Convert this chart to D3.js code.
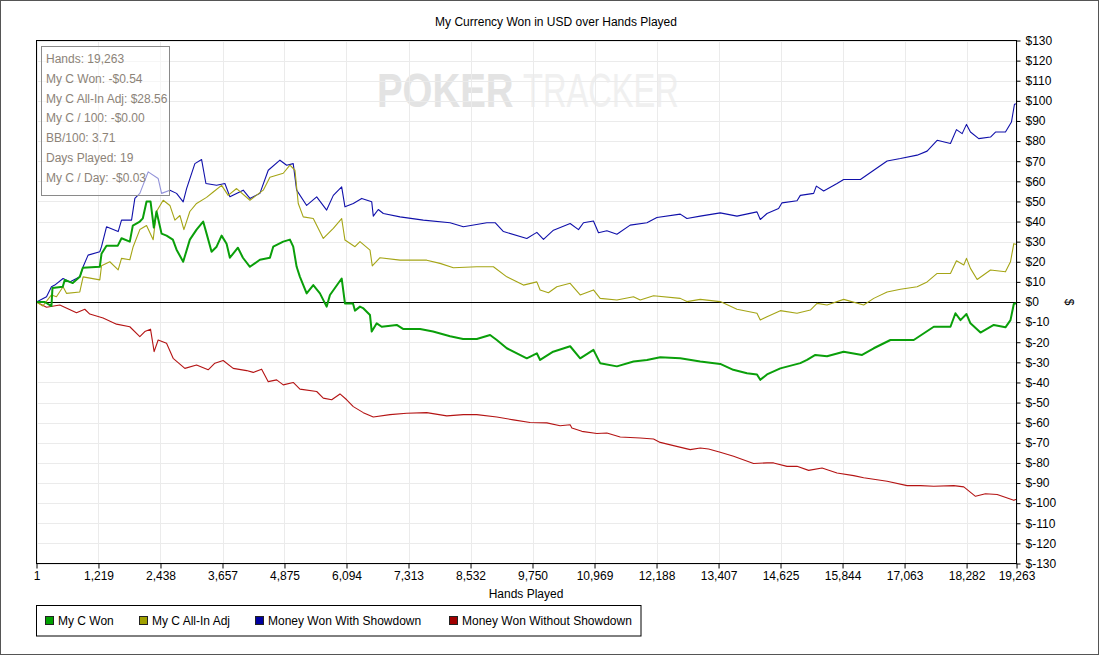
<!DOCTYPE html>
<html>
<head>
<meta charset="utf-8">
<script src="https://cdn.jsdelivr.net/npm/d3@7"></script>
<style>
  body { margin: 0; background: #fff; }
  svg text { font-family: "Liberation Sans", Arial, sans-serif; }
</style>
</head>
<body>
<div id="chart"></div>
<script>
// Data: [hands played, cumulative $]
const myCWon = [
  [1, 0], [163, 0], [295, -2], [315, 7], [517, 7.6], [557, 11], [714, 9.4], [852, 12.5], [911, 17],
  [1245, 17.5], [1279, 24], [1377, 28], [1599, 28], [1672, 31.7], [1835, 30], [1894, 38], [2032, 40],
  [2091, 41.6], [2164, 50], [2242, 50], [2307, 37], [2360, 45], [2459, 34], [2557, 33], [2681, 31],
  [2754, 26], [2884, 20], [3015, 31], [3147, 36], [3277, 40], [3344, 34], [3442, 25], [3541, 27.5],
  [3639, 33], [3737, 29], [3802, 22], [3960, 27], [4058, 22], [4196, 17.5], [4392, 21], [4589, 22],
  [4654, 27.5], [4851, 30], [4982, 31], [5047, 27.5], [5114, 17.5], [5179, 12.5], [5311, 4.3],
  [5441, 8.4], [5572, 4.3], [5704, -2.3], [5769, 3.5], [5999, 11.7], [6064, -0.7], [6222, -0.7],
  [6261, -4.3], [6359, -2.3], [6418, -3], [6556, -6.5], [6590, -14.7], [6688, -10.6], [6786, -12.3],
  [7081, -11.4], [7205, -13.4], [7540, -13.4], [7795, -14.7], [8130, -17], [8385, -18.4], [8655, -18.4],
  [8916, -16.4], [9048, -18.9], [9245, -23], [9638, -28], [9835, -25.5], [9900, -28.8], [10156, -24.7],
  [10490, -22], [10687, -28], [10948, -23.8], [11080, -30.4], [11409, -32], [11735, -29.6], [11999, -28.8],
  [12260, -27.5], [12654, -28], [13047, -29.6], [13440, -30.8], [13696, -33.7], [13966, -35.4],
  [14162, -36], [14227, -38.7], [14359, -36], [14621, -33], [15014, -30.4], [15146, -28.8], [15309, -26.3],
  [15539, -27], [15866, -24.7], [16228, -26.3], [16457, -23], [16785, -18.9], [17243, -18.9],
  [17637, -12.3], [17965, -12.3], [18063, -5.6], [18162, -9], [18280, -6], [18358, -10.6], [18555, -15.2],
  [18816, -11.4], [19046, -12.6], [19145, -9], [19210, -1], [19263, -0.54]
];

const myCAllInAdj = [
  [1, 0], [125, -2], [295, 3.5], [393, 2.6], [523, 7.6], [590, 4.3], [852, 5], [917, 12.5], [1245, 11],
  [1279, 18], [1442, 20], [1606, 16], [1672, 21.7], [1835, 21], [1901, 27.5], [2032, 36], [2164, 38],
  [2294, 31], [2360, 45], [2491, 50.6], [2623, 48], [2721, 40.7], [2820, 43], [2898, 36], [3015, 45],
  [3147, 49], [3344, 52], [3475, 54.7], [3639, 58], [3769, 53], [3934, 56.4], [4196, 50.6], [4458, 55.6],
  [4589, 62], [4851, 64], [4982, 68], [5081, 65.5], [5146, 49], [5244, 42.3], [5441, 41.5], [5638, 31.6],
  [5835, 36.6], [5999, 41.5], [6064, 30.8], [6261, 27.5], [6359, 30], [6556, 25.8], [6601, 17.9],
  [6753, 22], [7146, 20.8], [7671, 20.8], [7933, 19.2], [8195, 17], [8655, 17.5], [8982, 17.5],
  [9245, 12.5], [9572, 8.4], [9835, 10], [9900, 6], [10063, 4.6], [10228, 7.6], [10490, 9.3],
  [10687, 3.5], [10948, 6], [11080, 1.8], [11409, 1], [11735, 2.6], [11867, 1], [12129, 3.1],
  [12654, 1.8], [12785, 0.2], [13047, 1.3], [13440, 0.2], [13769, -3.6], [14162, -5.6], [14227, -9],
  [14359, -7.3], [14621, -4.3], [14949, -5.6], [15211, -4], [15343, -0.7], [15539, -1.5], [15866, 1.3],
  [16259, -1.5], [16457, 1.8], [16720, 5], [16982, 6.3], [17310, 7.6], [17506, 10], [17703, 14.2],
  [17965, 14.2], [18083, 20.5], [18227, 18.4], [18280, 21.7], [18358, 16.7], [18490, 11.2], [18752, 15.9],
  [19046, 15], [19145, 20], [19210, 29], [19263, 28.56]
];

const withShowdown = [
  [1, 0], [198, 2.6], [295, 7.6], [360, 8.4], [523, 11.7], [655, 10], [852, 12.5], [917, 17.5],
  [1015, 23.3], [1245, 25], [1279, 27.5], [1377, 37.4], [1606, 35], [1672, 40.7], [1869, 40.7],
  [1934, 51.5], [2032, 54], [2196, 64.7], [2392, 61.4], [2459, 54], [2623, 55.6], [2754, 54], [2884, 49.8],
  [2951, 56.4], [3114, 68.8], [3246, 70.8], [3331, 58.9], [3541, 58], [3704, 58.9], [3802, 52.3],
  [4064, 55.6], [4196, 51.5], [4392, 54], [4556, 65.5], [4786, 70.5], [4918, 68], [5047, 68.8],
  [5114, 55.6], [5311, 48], [5508, 52.3], [5704, 45.7], [5835, 53], [5999, 57.2], [6064, 47.3],
  [6228, 49], [6393, 51.5], [6590, 49.8], [6621, 42.7], [6719, 46], [6818, 44], [7146, 42.3],
  [7604, 40.7], [8130, 39.4], [8391, 37.4], [8852, 39.4], [9015, 39.4], [9179, 35], [9638, 31.6],
  [9835, 34.6], [9966, 31.1], [10162, 35.7], [10490, 39], [10654, 36], [10752, 39.4], [10948, 40.3],
  [11047, 34.4], [11212, 35.4], [11409, 33.7], [11670, 38.2], [11999, 39.4], [12195, 42], [12654, 43.7],
  [12785, 41.5], [13047, 42.7], [13440, 44.3], [13769, 42.7], [14162, 44.8], [14227, 41], [14359, 44],
  [14587, 46.5], [14654, 49.3], [14949, 50.3], [15014, 53], [15276, 54], [15329, 57.6], [15473, 55.2],
  [15736, 58.9], [15866, 60.9], [16195, 60.9], [16457, 65.5], [16720, 70.1], [16982, 71.3], [17310, 73],
  [17506, 75], [17703, 80.4], [17965, 78.8], [18083, 85.7], [18195, 83.7], [18280, 88.3], [18358, 84.5],
  [18521, 81.2], [18752, 82], [18850, 84.5], [19046, 84.5], [19164, 89.5], [19223, 98.3], [19263, 98.6]
];

const withoutShowdown = [
  [1, 0], [198, -2.6], [459, -1.5], [787, -5.3], [950, -3.6], [1048, -6], [1310, -8], [1574, -11],
  [1835, -12.3], [2032, -17.2], [2130, -14.7], [2242, -13.5], [2313, -24.7], [2392, -18.9], [2557, -20.5],
  [2687, -28], [2917, -33], [3147, -31.3], [3375, -33.7], [3507, -30.4], [3670, -29.1], [3867, -33],
  [4131, -34.1], [4261, -35], [4426, -33.4], [4556, -39.6], [4721, -38.7], [4851, -41.2], [5047, -40],
  [5179, -43.3], [5508, -44.5], [5638, -47.8], [5803, -48.6], [5966, -45.7], [6098, -48.6], [6228, -52],
  [6424, -55], [6621, -57.2], [6949, -56], [7278, -55.3], [7671, -55], [8065, -56.6], [8391, -56],
  [8655, -56], [9048, -57.2], [9375, -58.6], [9703, -59.9], [10032, -60.1], [10293, -61.5], [10490, -61],
  [10524, -62.6], [10720, -64.3], [11015, -65.4], [11212, -65.1], [11474, -67.1], [11867, -67.6],
  [12129, -68.1], [12260, -69.8], [12522, -71.4], [12850, -73.4], [13047, -72.6], [13210, -73.1],
  [13440, -74.7], [13702, -76.7], [14095, -80.3], [14359, -80], [14489, -80], [14753, -81.7],
  [14949, -81.7], [15177, -83.7], [15441, -82.5], [15736, -85], [16063, -86.3], [16259, -87.4],
  [16720, -89.1], [17113, -91.3], [17375, -91.3], [17637, -91.6], [18030, -91.3], [18227, -91.9],
  [18457, -96.6], [18653, -95.3], [18883, -95.7], [19210, -98.6], [19263, -98]
];

const xTicks = [1, 1219, 2438, 3657, 4875, 6094, 7313, 8532, 9750, 10969, 12188, 13407, 14625, 15844, 17063, 18282, 19263];
const yTicks = d3.range(-130, 131, 10);

const seriesNames = ["My C Won", "My C All-In Adj", "Money Won With Showdown", "Money Won Without Showdown"];
const seriesData = [myCWon, myCAllInAdj, withShowdown, withoutShowdown];
const lineColors = ["#0a9f0a", "#a5a516", "#1010aa", "#b41414"];
const legendColors = ["#00a000", "#a0a000", "#0000a0", "#a00000"];

const statLines = [
  "Hands: 19,263",
  "My C Won: -$0.54",
  "My C All-In Adj: $28.56",
  "My C / 100: -$0.00",
  "BB/100: 3.71",
  "Days Played: 19",
  "My C / Day: -$0.03"
];

// Layout
const W = 1100, H = 655;
const plot = { left: 36.5, right: 1016.5, top: 40.5, bottom: 563.5 };

const svg = d3.select("#chart").append("svg")
  .attr("width", W)
  .attr("height", H);

// outer frame
svg.append("rect")
  .attr("x", 0.5).attr("y", 0.5)
  .attr("width", W - 2).attr("height", H - 1)
  .attr("fill", "#fff")
  .attr("stroke", "#555");

const xScale = d3.scaleLinear().domain([1, 19263]).range([plot.left, plot.right]);
const yScale = d3.scaleLinear().domain([-130, 130]).range([plot.bottom, plot.top]);

// title
svg.append("text")
  .attr("x", 556).attr("y", 26)
  .attr("text-anchor", "middle")
  .attr("font-size", 12)
  .text("My Currency Won in USD over Hands Played");

// watermark (narrowed with a horizontal scale)
svg.append("text")
  .attr("transform", "translate(377,107) scale(0.8,1)")
  .attr("font-size", 48).attr("font-weight", "bold")
  .attr("fill", "#e3e3e3")
  .text("POKER");
svg.append("text")
  .attr("transform", "translate(523,107) scale(0.68,1)")
  .attr("font-size", 48)
  .attr("fill", "#f0f0f0")
  .text("TRACKER");

// grid
svg.append("g")
  .selectAll("line")
  .data(yTicks)
  .join("line")
  .attr("x1", plot.left).attr("x2", plot.right)
  .attr("y1", d => Math.round(yScale(d)) + 0.5)
  .attr("y2", d => Math.round(yScale(d)) + 0.5)
  .attr("stroke", "#ebebeb");

svg.append("g")
  .selectAll("line")
  .data(xTicks)
  .join("line")
  .attr("y1", plot.top).attr("y2", plot.bottom)
  .attr("x1", d => Math.round(xScale(d)) + 0.5)
  .attr("x2", d => Math.round(xScale(d)) + 0.5)
  .attr("stroke", "#ebebeb");

// zero line
svg.append("line")
  .attr("x1", plot.left).attr("x2", plot.right)
  .attr("y1", Math.round(yScale(0)) + 0.5).attr("y2", Math.round(yScale(0)) + 0.5)
  .attr("stroke", "#000");

// lines
const line = d3.line()
  .x(d => xScale(d[0]))
  .y(d => yScale(d[1]));

const drawOrder = [3, 2, 1, 0];
drawOrder.forEach(i => {
  svg.append("path")
    .datum(seriesData[i])
    .attr("d", line)
    .attr("fill", "none")
    .attr("stroke", lineColors[i])
    .attr("stroke-width", i === 0 ? 2 : 1.1)
    .attr("stroke-linejoin", "round");
});

// plot frame
svg.append("rect")
  .attr("x", plot.left).attr("y", plot.top)
  .attr("width", plot.right - plot.left).attr("height", plot.bottom - plot.top)
  .attr("fill", "none")
  .attr("stroke", "#000");

// x axis
const xAxis = svg.append("g")
  .attr("transform", "translate(0," + plot.bottom + ")")
  .call(d3.axisBottom(xScale).tickValues(xTicks).tickFormat(d3.format(",")).tickSize(5).tickPadding(3));
xAxis.select(".domain").remove();
xAxis.selectAll("text").attr("font-size", 12).attr("font-family", "'Liberation Sans', Arial, sans-serif").attr("fill", "#000");

// y axis on the right
const yAxis = svg.append("g")
  .attr("transform", "translate(" + plot.right + ",0)")
  .call(d3.axisRight(yScale).tickValues(yTicks).tickFormat(d => "$" + d).tickSize(4).tickPadding(5));
yAxis.select(".domain").remove();
yAxis.selectAll("text").attr("font-size", 12).attr("font-family", "'Liberation Sans', Arial, sans-serif").attr("fill", "#000");

// axis titles
svg.append("text")
  .attr("x", 526).attr("y", 598)
  .attr("text-anchor", "middle")
  .attr("font-size", 12)
  .text("Hands Played");

svg.append("text")
  .attr("transform", "translate(1065,302) rotate(90)")
  .attr("text-anchor", "middle")
  .attr("font-size", 12)
  .text("$");

// stats box
svg.append("rect")
  .attr("x", 41.5).attr("y", 46.5)
  .attr("width", 128).attr("height", 149)
  .attr("fill", "#fff").attr("fill-opacity", 0.55)
  .attr("stroke", "#8a8a8a");

svg.append("g")
  .selectAll("text")
  .data(statLines)
  .join("text")
  .attr("x", 46)
  .attr("y", (d, i) => 63 + i * 19.8)
  .attr("font-family", "Lato, 'Noto Sans', sans-serif")
  .attr("font-size", 12)
  .attr("fill", "#8c8378")
  .text(d => d);

// legend
svg.append("rect")
  .attr("x", 36.5).attr("y", 605.5)
  .attr("width", 604.5).attr("height", 30.5)
  .attr("fill", "#fff")
  .attr("stroke", "#000");

const legendX = [45, 139, 255, 449];
const legend = svg.append("g")
  .selectAll("g")
  .data(seriesNames)
  .join("g")
  .attr("transform", (d, i) => "translate(" + legendX[i] + ",616)");
legend.append("rect")
  .attr("x", 0.5).attr("y", 0.5)
  .attr("width", 8).attr("height", 8)
  .attr("fill", (d, i) => legendColors[i])
  .attr("stroke", "#222");
legend.append("text")
  .attr("x", 13).attr("y", 9)
  .attr("font-size", 12)
  .text(d => d);
</script>
</body>
</html>
